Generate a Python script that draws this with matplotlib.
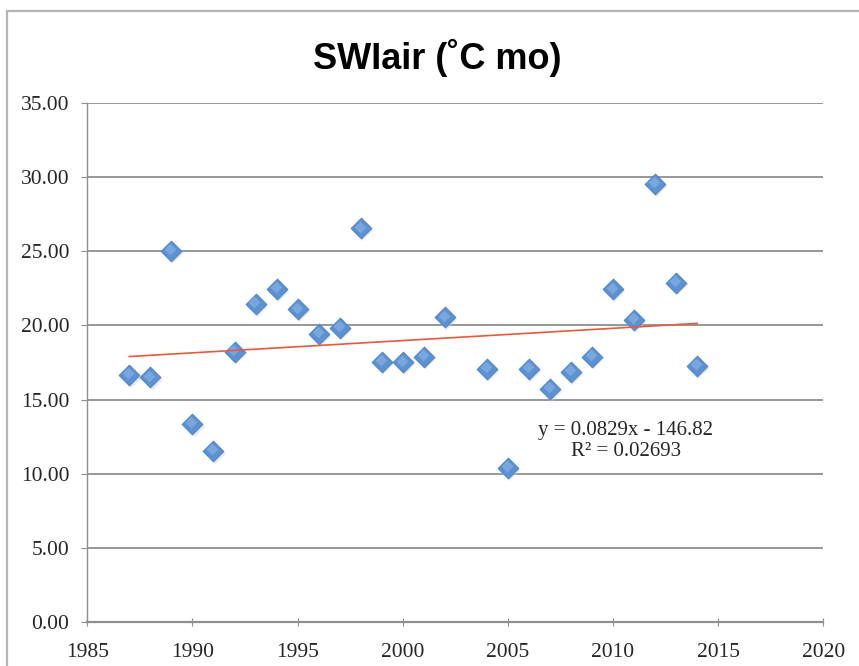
import numpy as np
import matplotlib
matplotlib.use("Agg")
import matplotlib.pyplot as plt
from matplotlib.patches import Rectangle

# yearly SWIair totals
years = [1987, 1988, 1989, 1990, 1991, 1992, 1993, 1994, 1995, 1996, 1997, 1998, 1999, 2000,
         2001, 2002, 2004, 2005, 2006, 2007, 2008, 2009, 2010, 2011, 2012, 2013, 2014]
swi_air = [16.66, 16.50, 25.05, 13.33, 11.53, 18.23, 21.45, 22.46, 21.09, 19.41, 19.85, 26.56,
           17.56, 17.51, 17.90, 20.55, 17.06, 10.36, 17.06, 15.71, 16.86, 17.90, 22.44, 20.37,
           29.55, 22.89, 17.27]

# linear trend as reported on the chart
slope = 0.0829
intercept = -146.82
r_squared = 0.02693

x_ticks = [1985, 1990, 1995, 2000, 2005, 2010, 2015, 2020]
y_ticks = [0, 5, 10, 15, 20, 25, 30, 35]

fig = plt.figure(figsize=(8.59, 6.66), dpi=100)
fig.patch.set_facecolor("white")

# chart-area frame (runs off the right and bottom edges)
fig.patches.append(Rectangle((7 / 859, -0.05), 1.1, (666 - 11) / 666 + 0.05,
                             transform=fig.transFigure, fill=False,
                             edgecolor="#b4b4b4", linewidth=1.6))

ax = fig.add_axes([87.3 / 859, 44.3 / 666, (823.3 - 87.3) / 859, (621.7 - 103.3) / 666])
ax.set_xlim(1985, 2020)
ax.set_ylim(0, 35)
ax.set_xticks(x_ticks)
ax.set_yticks(y_ticks)
ax.set_yticklabels([f"{v:.2f}" for v in y_ticks])

serif = "Liberation Serif"
for lbl in ax.get_xticklabels() + ax.get_yticklabels():
    lbl.set_fontfamily(serif)
    lbl.set_fontsize(15.5)
    lbl.set_color("#262626")

ax.grid(axis="y", color="#8f8f8f", linewidth=1.3)
ax.set_axisbelow(True)
for side in ("top", "right"):
    ax.spines[side].set_visible(False)
ax.spines["left"].set_color("#8f8f8f")
ax.spines["bottom"].set_color("#8f8f8f")
ax.spines["left"].set_linewidth(1.0)
ax.spines["bottom"].set_linewidth(1.6)
ax.tick_params(axis="y", direction="out", length=4, color="#8f8f8f", pad=9)
ax.tick_params(axis="x", direction="inout", length=6, color="#8f8f8f", pad=12)

yrs = np.array(years)
vals = np.array(swi_air)

# soft shadow, then the diamonds with a light highlight
ax.scatter(yrs + 0.06, vals - 0.12, marker="D", s=115, color="#c8d3e0", alpha=0.5,
           linewidths=0, zorder=3)
ax.scatter(yrs, vals, marker="D", s=110, color="#5d92d2", edgecolors="#5286c6",
           linewidths=0.8, zorder=4)
ax.scatter(yrs - 0.05, vals + 0.12, marker="D", s=35, color="#8cb6e6", alpha=0.6,
           linewidths=0, zorder=5)

trend_x = np.array([years[0], years[-1]])
ax.plot(trend_x, slope * trend_x + intercept, color="#e8593e", linewidth=1.2, zorder=6)

ax.text(2010.6, 12.94, f"y = {slope}x - {abs(intercept)}", family=serif, fontsize=15,
        color="#262626", ha="center", va="center")
ax.text(2010.6, 11.46, f"R² = {r_squared}", family=serif, fontsize=15,
        color="#262626", ha="center", va="center")

fig.text(437 / 859, 1 - 58 / 666, "SWIair (˚C mo)", family="Liberation Sans",
         fontweight="bold", fontsize=26, ha="center", va="center")

fig.savefig("out.png", dpi=100)
